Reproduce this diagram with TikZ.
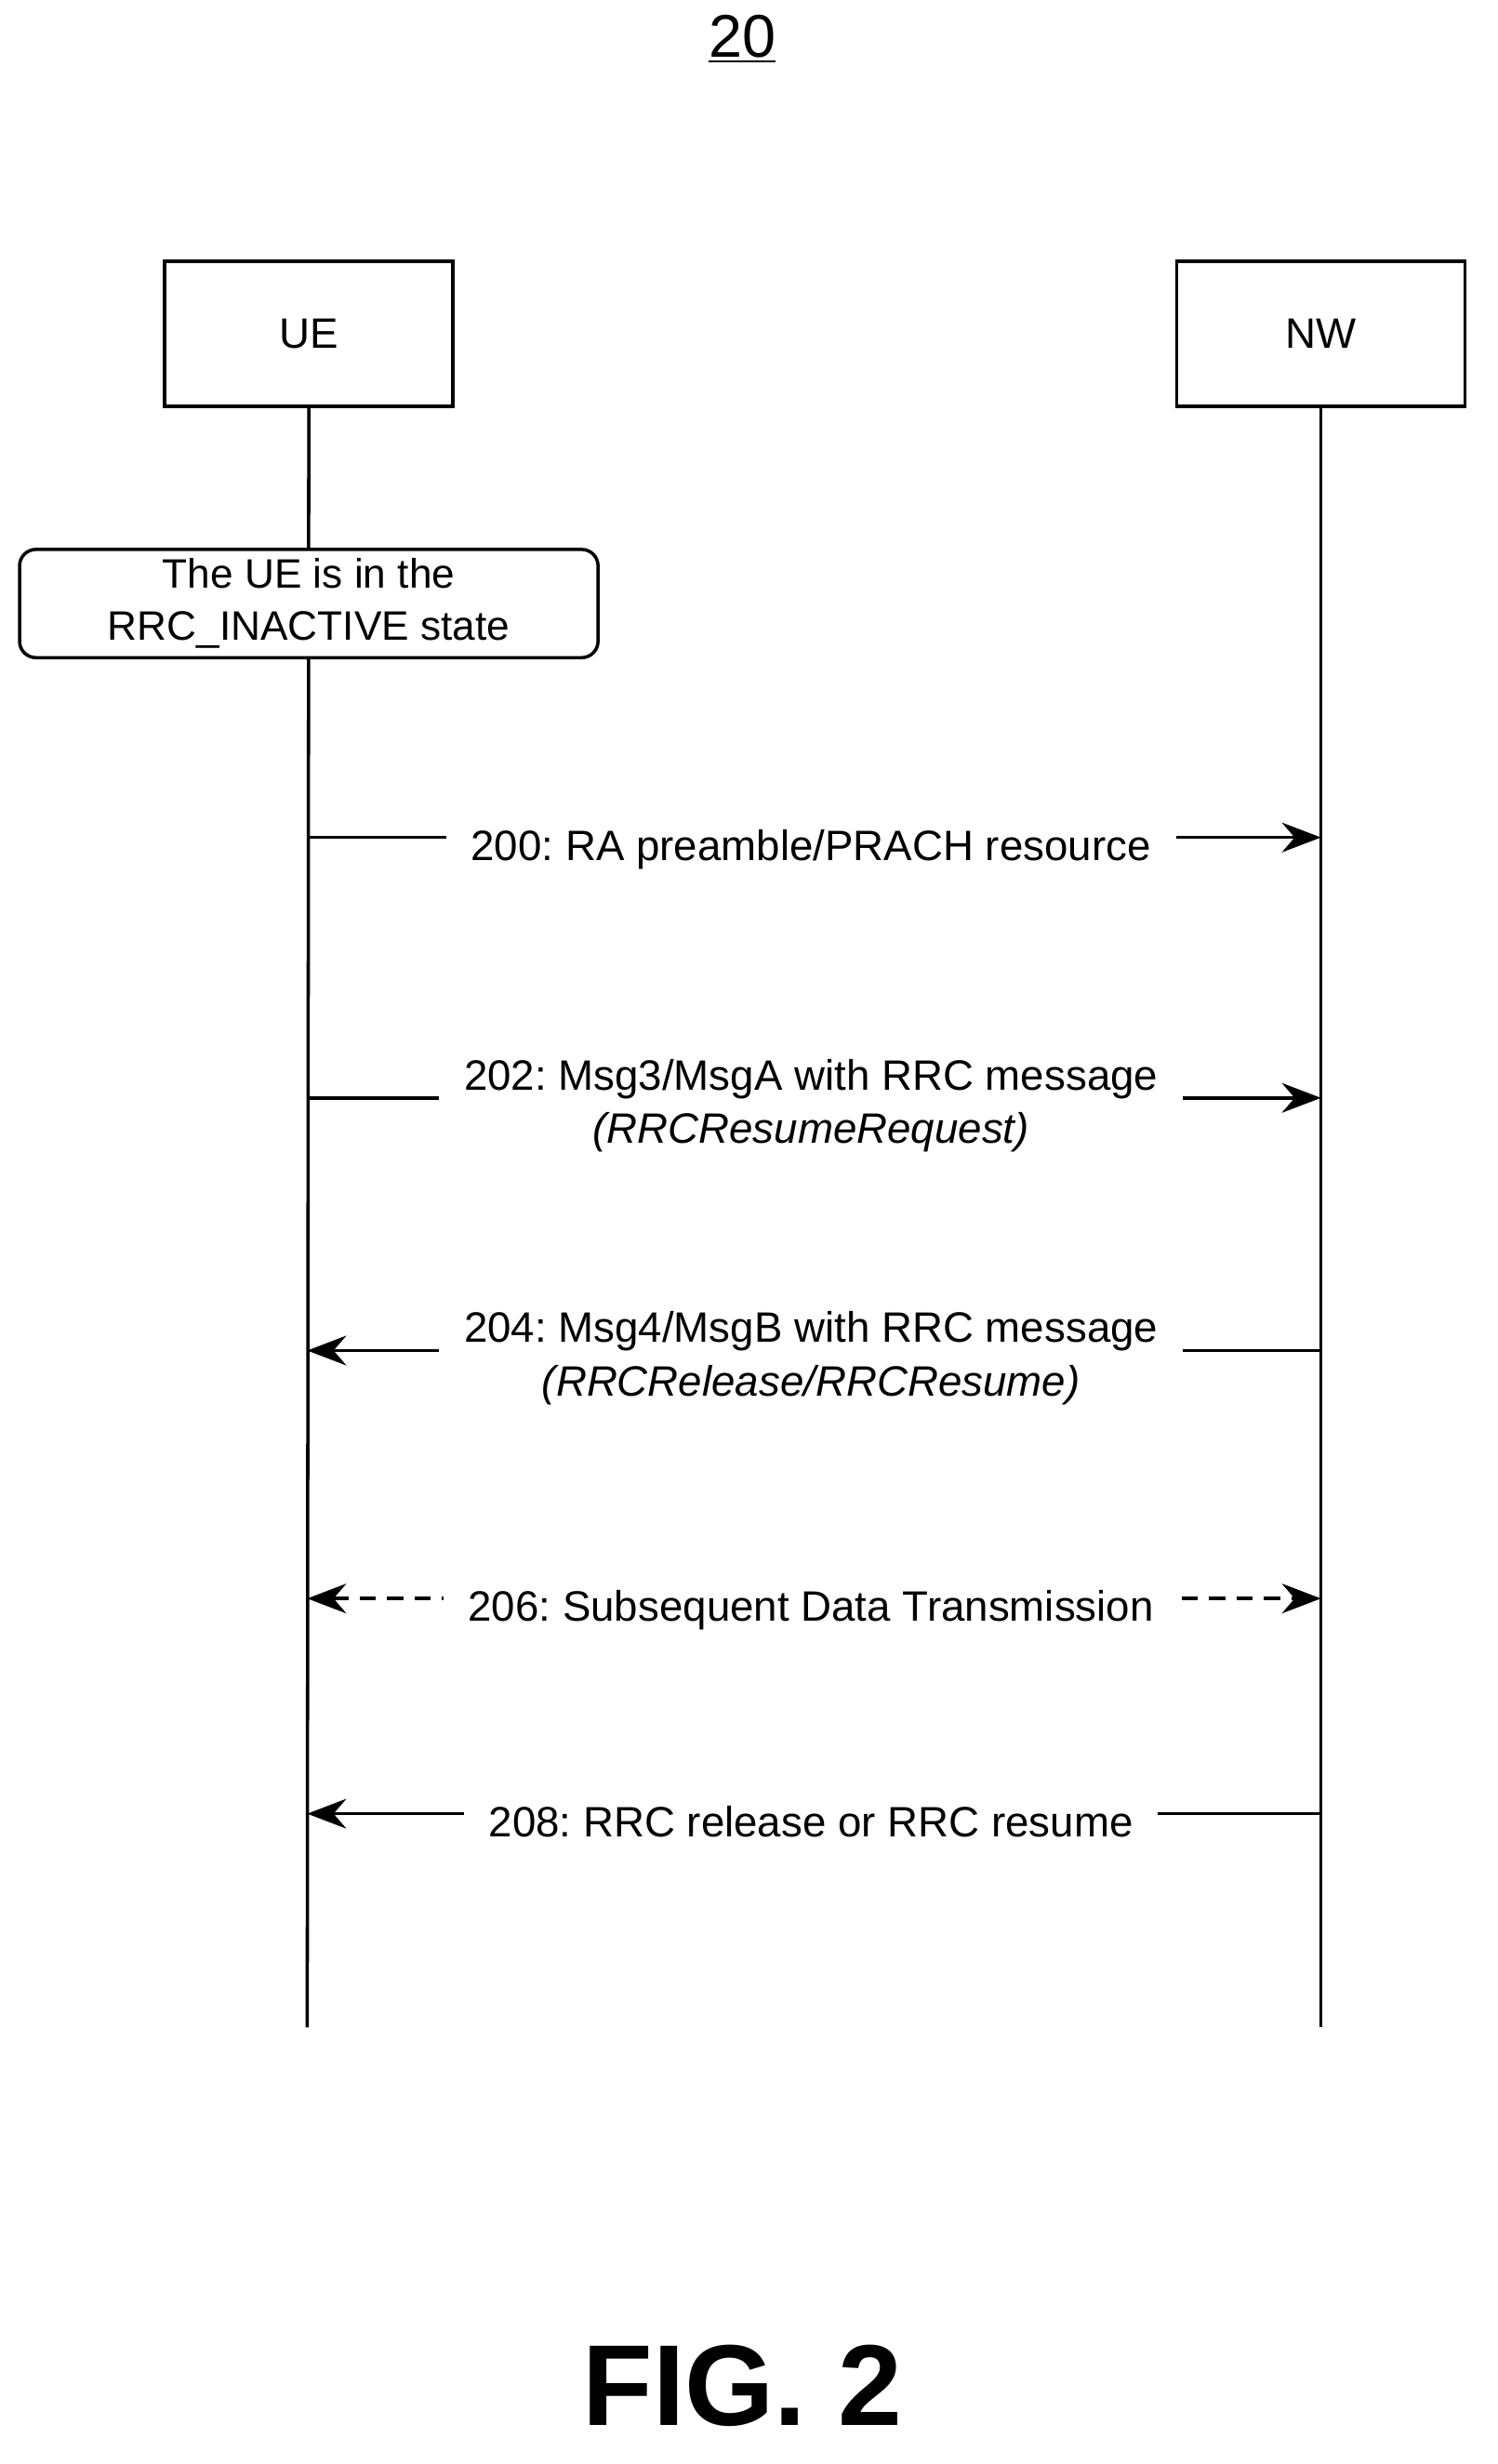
\documentclass[tikz,border=0pt]{standalone}
\usepackage{fontspec}
\setmainfont{Liberation Sans}
\frenchspacing
\usetikzlibrary{arrows.meta}
\tikzset{
  ent/.style={draw, line width=1.2pt, minimum width=3.7cm, minimum height=1.86cm, font=\fontsize{15.5}{18}\selectfont},
  msg/.style={fill=white, inner xsep=0.32cm, inner ysep=0pt, align=center, font=\fontsize{15.5}{19.5}\selectfont},
  tip/.style={-{Stealth[length=0.5cm,width=0.38cm]}},
}
\begin{document}
\begin{tikzpicture}[x=0.02cm, y=-0.02cm, line width=1.2pt]
        \useasboundingbox (0,0) rectangle (960,1580);
        \node[font=\fontsize{22}{26}\selectfont] (num) at (476,25) {\underline{20}};
        \node[ent] (ue) at (198,214) {UE};
        \node[ent] (nw) at (847,214) {NW};
        \coordinate (uebot) at (197,1300);
        \coordinate (nwbot) at (847,1300);
        \draw (ue.south) -- (uebot);
        \draw (nw.south) -- (nwbot);
        \node[draw, rounded corners=6pt, fill=white, minimum width=7.42cm, minimum height=1.38cm,
              align=center, font=\fontsize{15}{19}\selectfont] (st) at (198,387)
              {The UE is in the\\RRC\_INACTIVE state};
        % messages
        \foreach \y/\o/\dir/\t in {537/6/r/{200: RA preamble/PRACH resource},
                                704/26/r/{202: Msg3/MsgA with RRC message\\\textit{(RRCResumeRequest)}},
                                866/26/l/{204: Msg4/MsgB with RRC message\\\textit{(RRCRelease/RRCResume)}},
                                1163/6/l/{208: RRC release or RRC resume}} {
            \coordinate (a) at (197,\y);
            \coordinate (b) at (847,\y);
            \if r\dir
                \draw[tip] (a) -- (b);
            \else
                \draw[tip] (b) -- (a);
            \fi
            \node[msg, anchor=north] at (520,\y-\o) {\t};
        }
        \coordinate (da) at (197,1025);
        \coordinate (db) at (847,1025);
        \draw[dashed, dash pattern=on 6pt off 4pt, {Stealth[length=0.5cm,width=0.38cm]}-{Stealth[length=0.5cm,width=0.38cm]}] (da) -- (db);
        \node[msg, anchor=north] (m206) at (520,1019) {206: Subsequent Data Transmission};
        \node[font=\fontsize{42}{46}\selectfont\bfseries] (fig) at (476,1530) {FIG. 2};
\end{tikzpicture}
\end{document}
